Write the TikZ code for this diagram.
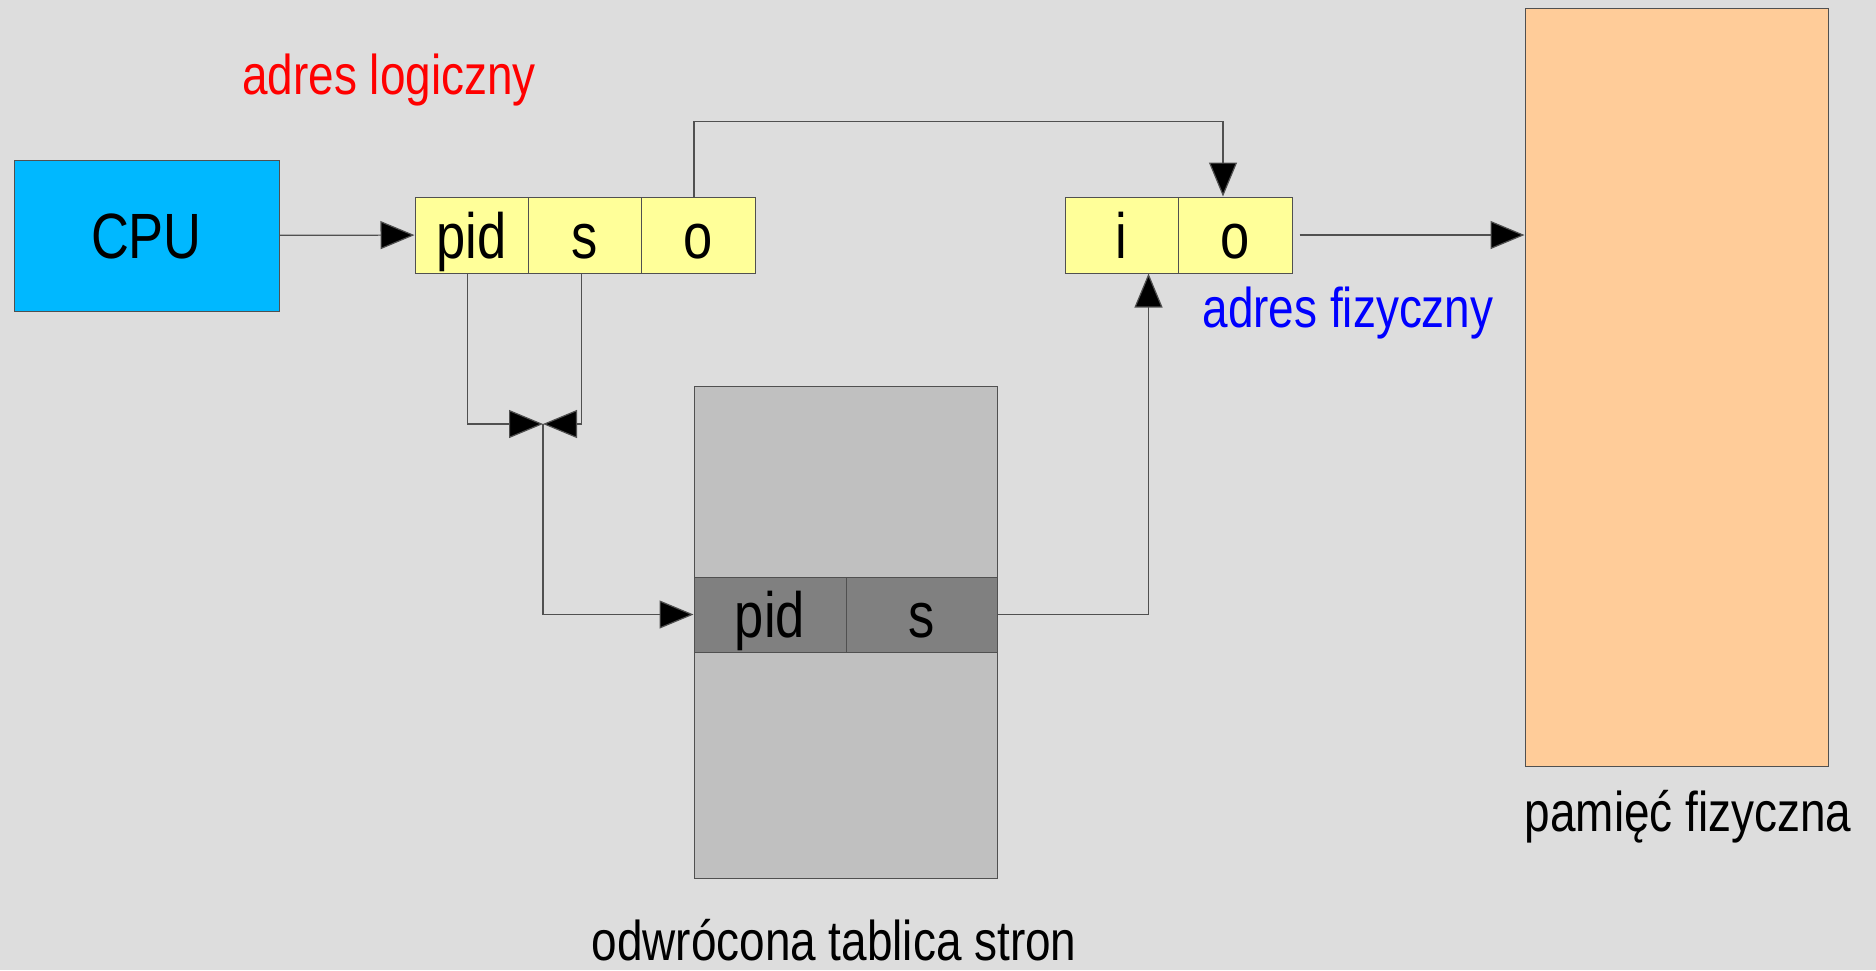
\documentclass[tikz,border=0pt]{standalone}
\usepackage{fontspec}
\setmainfont{Liberation Sans}[FakeStretch=0.82]
\usepackage{tikz}
\usetikzlibrary{calc, arrows.meta, positioning}
\definecolor{bggray}{RGB}{221, 221, 221}
\definecolor{cpublue}{RGB}{0, 184, 255}
\definecolor{celly}{RGB}{255, 255, 153}
\definecolor{memorange}{RGB}{255, 204, 153}
\definecolor{tblgray}{RGB}{192, 192, 192}
\definecolor{rowgray}{RGB}{128, 128, 128}
\definecolor{linegray}{RGB}{80, 80, 80}

\begin{document}
\begin{tikzpicture}[
    x=1pt, y=-1pt,
    box/.style={draw=linegray, line width=1pt, rectangle, inner sep=0pt, text centered, text height=60pt, text depth=14pt, font=\fontsize{64}{68}\selectfont},
    cell/.style={box, fill=celly, minimum height=76pt, minimum width=113pt},
    row/.style={box, fill=rowgray, minimum height=75pt, minimum width=151pt},
    caption/.style={font=\fontsize{56}{60}\selectfont, inner sep=0pt},
    arr/.style={draw=linegray, line width=1.2pt, -{Triangle[length=34pt, width=28pt, fill=black]}}
]
    \fill[bggray] (0,0) rectangle (1876,970);
    \useasboundingbox (0,0) rectangle (1876,970);

    \node [box, fill=cpublue, minimum width=265pt, minimum height=151pt] (cpu) at (146.5, 235.5) {CPU};

    \node [cell] (pid) at (471.5, 235) {pid};
    \node [cell] (seg) at (584.5, 235) {s};
    \node [cell, minimum width=114pt] (off) at (698, 235) {o};

    \node [cell] (frm) at (1121.5, 235) {i};
    \node [cell, minimum width=114pt] (foff) at (1235, 235) {o};

    \node [box, fill=memorange, minimum width=303pt, minimum height=758pt] (mem) at (1676.5, 387) {};
    \node [box, fill=tblgray, minimum width=303pt, minimum height=492pt] (tbl) at (845.5, 632) {};
    \node [row, minimum width=152pt] (tpid) at (770, 614.5) {pid};
    \node [row] (tseg) at (921.5, 614.5) {s};

    \node [caption, text=red] (lbl_log) at (389, 80) {adres logiczny};
    \node [caption, text=blue] (lbl_phys) at (1348, 313) {adres fizyczny};
    \node [caption] (lbl_mem) at (1688, 817) {pamięć fizyczna};
    \node [caption] (lbl_tbl) at (834, 940) {odwrócona tablica stron};

    \coordinate (join) at (543, 424);

    \draw [arr] (cpu) -- (pid);
    \draw [arr] ([xshift=-4pt]off.north) -- ++(0, -75) -| ([xshift=-12pt]foff.north);
    \draw [arr, shorten <=7pt] (foff.east) -- (foff.east -| mem.west);

    \draw [arr] ([xshift=-4pt]pid.south) |- (join);
    \draw [arr] ([xshift=-3pt]seg.south) |- (join);
    \draw [arr] (join) |- (tpid);
    \draw [arr] (tseg.east) -| ([xshift=27pt]frm.south);

\end{tikzpicture}
\end{document}
